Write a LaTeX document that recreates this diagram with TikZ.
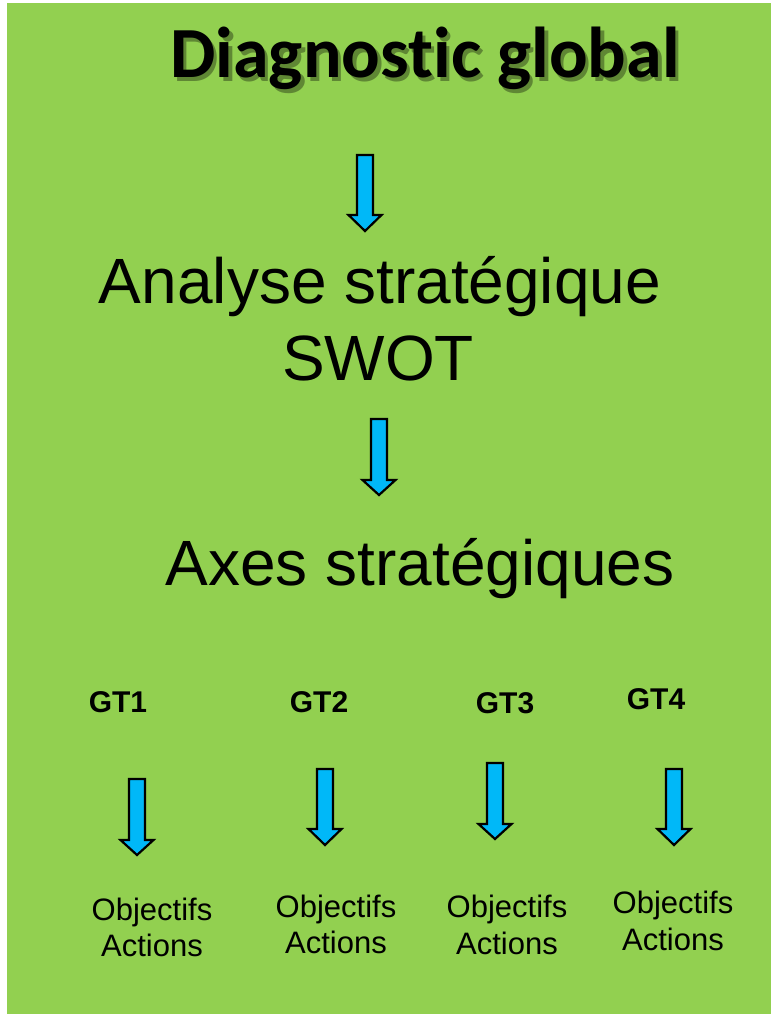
\documentclass[tikz,border=0pt]{standalone}
\usepackage{fontspec}
\setmainfont{Liberation Sans}
\newfontfamily\titlefont[Ligatures={NoCommon,NoContextual},RawFeature={-liga;-clig;-dlig}]{Carlito}
\definecolor{bggreen}{HTML}{92D050}
\definecolor{arrowblue}{HTML}{00B8F8}
\begin{document}
\begin{tikzpicture}[x=1pt,y=-1pt,
  txt/.style={inner sep=0pt,anchor=base,text=black},
  big/.style={txt,font=\fontsize{64}{70}\selectfont},
  gt/.style={txt,font=\fontsize{30}{34}\selectfont\bfseries},
  small/.style={txt,font=\fontsize{31}{36}\selectfont},
  titlestyle/.style={txt,font=\fontsize{72}{76}\selectfont\titlefont\bfseries},
  blockarrow/.style={fill=arrowblue,draw=black,line width=2.2pt,line join=miter}]
\useasboundingbox (0,0) rectangle (771,1016);
\fill[white] (0,0) rectangle (771,1016);
\fill[bggreen] (7,3) rectangle (771,1014);
% arrow macro: center x, top y, head base y, tip y
\newcommand{\myarrow}[4]{%
  \draw[blockarrow] (#1-8,#2) -- (#1+8,#2) -- (#1+8,#3) -- (#1+16.5,#3) -- (#1,#4) -- (#1-16.5,#3) -- (#1-8,#3) -- cycle;}
% title with soft shadow
\node[titlestyle,text=black,opacity=0.35] (titleshadow) at (428.5,81.5) {Diagnostic global};
\node[titlestyle] (title) at (425,78) {Diagnostic global};
\myarrow{365}{155}{215}{231}
\node[big] (analyse) at (380,303) {Analyse stratégique};
\node[big] (swot) at (378,380) {SWOT};
\myarrow{379}{419}{480}{495}
\node[big] (axes) at (420,585) {Axes stratégiques};
\node[gt] (gt1) at (118,712) {GT1};
\node[gt] (gt2) at (319,712) {GT2};
\node[gt] (gt3) at (505,713) {GT3};
\node[gt] (gt4) at (656,709) {GT4};
\myarrow{137}{779}{840}{855}
\myarrow{325}{769}{829}{845}
\myarrow{495}{763}{824}{839}
\myarrow{674}{769}{829}{845}
\node[small] (obj1) at (152,920) {Objectifs};
\node[small] (act1) at (152,956) {Actions};
\node[small] (obj2) at (336,917) {Objectifs};
\node[small] (act2) at (336,953) {Actions};
\node[small] (obj3) at (507,917) {Objectifs};
\node[small] (act3) at (507,954) {Actions};
\node[small] (obj4) at (673,913) {Objectifs};
\node[small] (act4) at (673,950) {Actions};
\end{tikzpicture}
\end{document}
